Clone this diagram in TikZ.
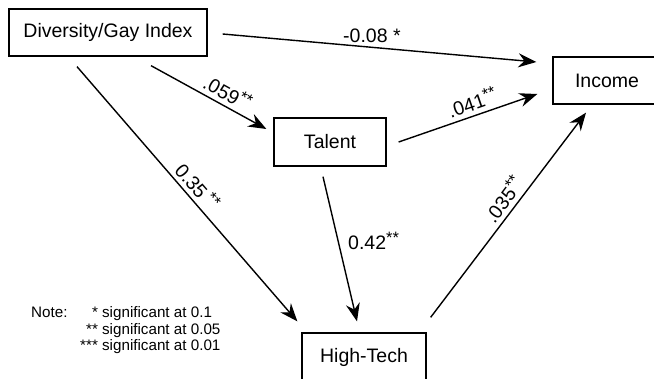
\documentclass[tikz,border=0pt]{standalone}
\usepackage{fontspec}
\setmainfont{Liberation Sans}
\usetikzlibrary{arrows.meta,calc}
\newcommand{\sups}[1]{\raisebox{0.32em}{\fontsize{16.5}{16.5}\selectfont #1}}
\begin{document}
\begin{tikzpicture}[x=1pt,y=-1pt,
  box/.style={draw=black,line width=1.3pt,inner sep=0pt,font=\fontsize{19.5}{23}\selectfont},
  arr/.style={line width=1.4pt,-{Stealth[length=18pt,width=14pt,inset=6pt]}},
  lbl/.style={inner sep=0pt,font=\fontsize{19.5}{23}\selectfont},
  notefont/.style={inner sep=0pt,font=\fontsize{15.2}{16.7}\selectfont}]
\useasboundingbox (0,0) rectangle (654,379);
\node[box,minimum width=198pt,minimum height=47pt] (div) at (108,32.5) {Diversity/Gay Index};
\node[box,minimum width=112pt,minimum height=48pt] (tal) at (330,142) {Talent};
\node[box,minimum width=108pt,minimum height=47pt] (inc) at (607,80.5) {Income};
\node[box,minimum width=124pt,minimum height=48pt] (ht) at (364,357) {High-Tech};

\draw[arr] ($(div.east)+(15,1.5)$) -- ($(inc.west)+(-16,-18.5)$);
\draw[arr] ($(div.south)+(43,9)$) -- ($(tal.west)+(-7,-13)$);
\draw[arr] ($(div.south)+(-31,10)$) -- ($(ht.north west)+(-4,-11)$);
\draw[arr] ($(tal.east)+(12,0)$) -- ($(inc.west)+(-15,13.5)$);
\draw[arr] ($(tal.south)+(-7,10)$) -- ($(ht.north)+(-7,-11)$);
\draw[arr] ($(ht.north east)+(4,-15)$) -- ($(inc.south)+(-21,8)$);

\node[lbl,anchor=base west] (l1) at (343,42.5) {-0.08 *};
\node[lbl,rotate=-29] (l2) at (228,92) {.059\sups{**}};
\node[lbl,rotate=-49] (l3) at (198,186) {0.35\,\sups{**}};
\node[lbl,rotate=19] (l4) at (472,102) {.041\sups{**}};
\node[lbl,rotate=53] (l5) at (503,199) {.035\sups{**}};
\node[lbl,anchor=base west] (l6) at (348,250) {0.42\sups{**}};

\node[notefont,anchor=base west] (note) at (31,317.5) {Note:};
\node[notefont,anchor=base west] (legend) at (80,317.5) {\begin{tabular}[t]{@{}r@{\hspace{4.2pt}}l@{}}
{*}&significant at 0.1\\
{**}&significant at 0.05\\
{***}&significant at 0.01
\end{tabular}};
\end{tikzpicture}
\end{document}
